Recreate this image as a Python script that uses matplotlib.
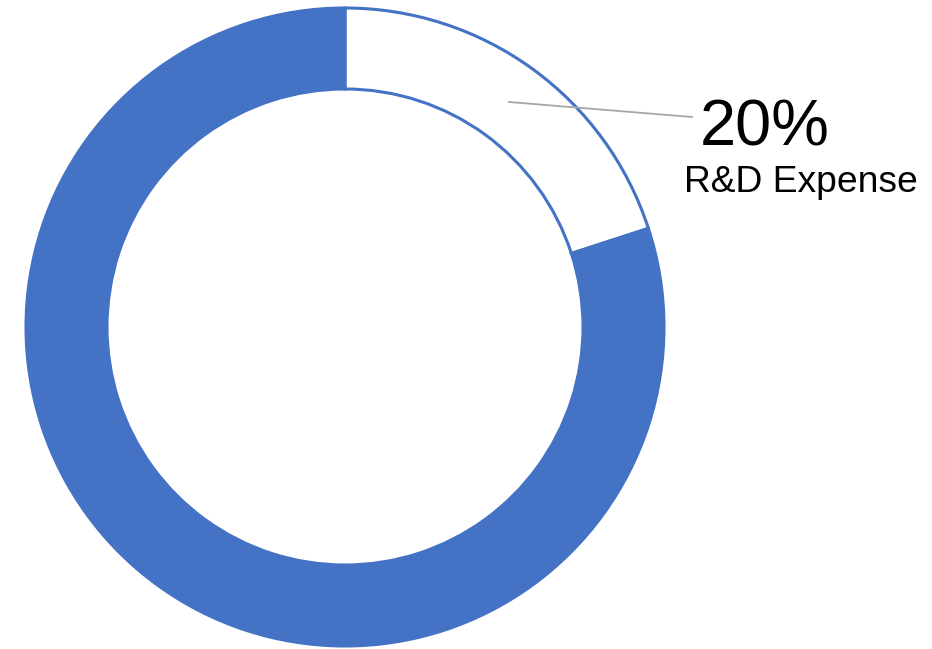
import matplotlib
matplotlib.use("Agg")
import matplotlib.pyplot as plt

# data
labels = ["R&D Expense", "Other"]
shares = [20, 80]
colors = ["white", "#4472C4"]

plt.rcParams['font.family'] = ['Liberation Sans', 'DejaVu Sans']

W, H = 932, 649
fig = plt.figure(figsize=(W / 100, H / 100), dpi=100)
ax = fig.add_axes([0, 0, 1, 1])

cx, cy, r = 345, H - 327, 319
ax.pie(shares, colors=colors, startangle=90, counterclock=False,
       center=(cx, cy), radius=r, frame=True,
       wedgeprops=dict(width=81, edgecolor="#4472C4", linewidth=2.2))
ax.set_xlim(0, W)
ax.set_ylim(0, H)
ax.set_aspect("equal")
ax.axis("off")

# leader line + label
ax.plot([509, 692], [H - 102, H - 117], color="#A6A6A6", lw=1.3)
ax.text(700, H - 145, f"{shares[0]}%", fontsize=46.8, ha="left", va="baseline")
ax.text(684, H - 192, labels[0], fontsize=26.8, ha="left", va="baseline")

fig.savefig("out.png", dpi=100)
